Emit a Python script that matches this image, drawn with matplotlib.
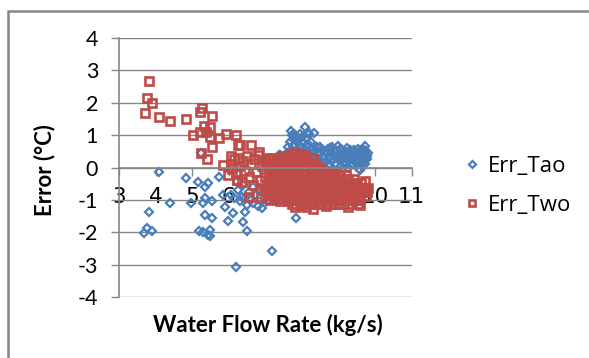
import matplotlib
matplotlib.use('Agg')

import matplotlib.pyplot as plt
from matplotlib.patches import Rectangle

# Err_Tao (blue diamonds)
tao_x = [3.69, 3.77, 3.89, 3.82, 4.09, 4.39, 4.84, 4.98, 5.16, 5.43, 5.36, 5.73,
         5.34, 5.30, 5.55, 5.34, 5.54, 5.20, 5.30, 5.48, 5.43, 5.50, 5.89, 5.98,
         6.12, 6.38, 6.44, 6.49, 6.21, 7.19, 7.83, 5.25, 7.39, 5.85,
         6.05, 6.15, 6.25, 6.30, 6.35, 6.40, 6.45, 6.50, 6.55, 6.60, 6.65, 6.67,
         6.72, 6.80, 6.85, 6.92, 6.95, 7.00, 7.05, 7.10, 7.15, 7.20, 7.25,
         7.30, 7.35, 7.38, 7.42, 7.45, 7.48, 7.52, 7.55, 7.58, 7.60,
         7.62, 7.65, 7.68, 7.70, 7.72, 7.74, 7.76, 7.78, 7.80, 7.82, 7.85, 7.88,
         7.90, 7.92, 7.95, 7.97, 8.00, 8.02, 8.05, 8.08, 8.10, 8.12, 8.15, 8.18,
         8.20, 8.22, 8.25, 8.28, 8.30, 8.33,
         7.63, 7.67, 7.71, 7.75, 7.79, 7.83, 7.87, 7.91, 7.96, 8.01, 8.06, 8.11,
         8.16, 8.21, 8.26, 8.31, 7.73, 7.99,
         8.35, 8.38, 8.40, 8.43, 8.46, 8.50, 8.52, 8.54, 8.57, 8.60, 8.63, 8.66,
         8.70, 8.73, 8.76, 8.78, 8.80, 8.84, 8.87, 8.90, 8.93, 8.96, 8.99, 9.02,
         9.05, 9.08, 9.10, 9.13, 9.16, 9.20, 9.23, 9.26, 9.30, 9.33, 9.36, 9.40,
         9.43, 9.46, 9.50, 9.53, 9.56, 9.58, 9.61, 9.64, 9.67, 9.70, 9.72, 9.74,
         9.77, 9.80, 9.59,
         8.36, 8.41, 8.48, 8.55, 8.61, 8.68, 8.74, 8.82, 8.85, 8.91, 8.97, 9.03,
         9.07, 9.12, 9.17, 9.22, 9.27, 9.31, 9.35, 9.41, 9.45, 9.49, 9.54, 9.57,
         9.62, 9.66, 9.69, 9.73, 9.76, 9.79]
tao_y = [-2.01, -1.87, -1.96, -1.38, -0.15, -1.10, -0.33, -1.10, -0.45, -0.47, -0.61, -0.28,
         -0.93, -1.10, -1.03, -1.48, -1.57, -1.95, -1.98, -1.93, -2.08, -2.11, -1.21, -1.65,
         -1.39, -1.67, -1.36, -1.96, -3.06, -2.57, -1.57, 0.44, 0.39, -0.85,
         -0.85, -0.95, -0.70, -1.05, -0.90, -0.55, -0.95, -1.15, -0.75, -1.00, -0.60, -1.10,
         -0.85, -1.19, -0.70, -1.26, -0.95, -0.60, -1.05, -0.80, -0.45, -1.00, -0.70,
         -0.55, -0.20, 0.39, -0.85, 0.10, -0.40, 0.25, -0.70, -0.05, 0.45,
         0.62, 0.30, 0.80, 1.13, 0.55, 0.15, 0.87, 0.40, 0.70, 1.00, 0.20, 0.55,
         0.85, -0.30, 0.65, 0.35, 0.95, 0.10, 0.75, 1.26, 0.50, 0.90, 0.25, 0.70,
         1.05, 0.45, 0.80, 0.15, 0.60, 1.06,
         0.05, 0.50, -0.20, 0.65, 0.10, 0.45, 0.95, 0.25, 1.05, 0.40, 0.20, 0.65,
         1.10, 0.30, 0.55, 0.35, 1.00, 0.80,
         0.35, 0.55, 0.05, 0.45, 0.25, 0.62, 0.10, 0.54, 0.35, -0.05, 0.48, 0.20,
         0.58, 0.30, 0.60, 0.05, 0.45, 0.22, 0.55, 0.35, -0.10, 0.50, 0.65, 0.25,
         0.45, 0.05, 0.55, 0.30, 0.15, 0.48, 0.35, 0.00, 0.40, 0.25, 0.52, 0.10,
         0.38, 0.20, 0.45, 0.30, -0.05, 0.50, 0.25, 0.40, 0.15, 0.55, 0.65, 0.30,
         0.37, 0.45, -0.07,
         0.15, 0.62, 0.40, 0.05, 0.30, 0.45, 0.12, 0.62, 0.38, 0.10, 0.30, 0.58,
         0.35, 0.00, 0.38, 0.60, 0.20, 0.55, 0.08, 0.55, 0.30, 0.15, 0.58, 0.35,
         0.08, 0.52, 0.28, 0.10, 0.50, 0.25]

# Err_Two (red squares)
two_x = [3.82, 3.77, 3.89, 3.70, 4.08, 4.39, 4.84, 5.28, 5.21, 5.54, 5.02, 5.33,
         5.48, 5.21, 5.39, 5.48, 5.72, 5.92, 6.21, 5.25, 5.54, 5.41, 5.85, 5.98,
         6.26, 6.07, 6.23,
         6.05, 6.10, 6.15, 6.20, 6.25, 6.30, 6.35, 6.40, 6.45, 6.50, 6.55, 6.60,
         6.62, 6.65, 6.70, 6.75, 6.80, 6.82, 6.85, 6.90, 6.95, 6.98, 6.30, 6.23,
         6.55, 6.88,
         7.00, 7.03, 7.06, 7.09, 7.12, 7.15, 7.18, 7.21, 7.24, 7.27, 7.30, 7.33,
         7.36, 7.39, 7.42, 7.44, 7.47, 7.50, 7.53, 7.56, 7.58, 7.60, 7.05, 7.25,
         7.45, 7.35,
         7.02, 7.08, 7.13, 7.17, 7.22, 7.28, 7.32, 7.38, 7.41, 7.46, 7.51, 7.55,
         7.57, 7.12, 7.40, 7.48, 7.20,
         7.70, 7.82, 7.95, 8.05,
         7.62, 7.75, 7.88, 8.00, 8.12, 8.30,
         7.66, 7.79, 7.92, 8.04, 8.17, 8.35,
         7.61, 7.72, 7.85, 7.98, 8.10, 8.22, 8.37, 8.50,
         7.66, 7.78, 7.90, 8.03, 8.15, 8.28, 8.42, 8.58, 8.72, 8.86,
         7.62, 7.74, 7.87, 8.00, 8.12, 8.25, 8.38, 8.50, 8.63, 8.78, 8.90, 9.05, 9.20,
         7.67, 7.80, 7.93, 8.06, 8.19, 8.32, 8.45, 8.57, 8.70, 8.84, 8.98, 9.12,
         9.27, 9.42, 9.72,
         7.63, 7.76, 7.89, 8.02, 8.14, 8.27, 8.40, 8.53, 8.66, 8.80, 8.93, 9.06,
         9.20, 9.34, 9.48, 9.62, 9.78,
         7.68, 7.81, 7.94, 8.07, 8.20, 8.33, 8.46, 8.60, 8.74, 8.88, 9.01, 9.15,
         9.29, 9.43, 9.56, 9.70, 9.81,
         7.64, 7.77, 7.90, 8.03, 8.16, 8.29, 8.42, 8.55, 8.69, 8.83, 8.96, 9.10,
         9.24, 9.38, 9.51, 9.65, 9.78,
         7.69, 7.82, 7.95, 8.08, 8.21, 8.34, 8.48, 8.62, 8.76, 8.90, 9.04, 9.18,
         9.32, 9.46, 9.60, 9.74,
         7.65, 7.78, 7.91, 8.04, 8.17, 8.31, 8.45, 8.59, 8.73, 8.87, 9.01, 9.15,
         9.30, 9.45, 9.60,
         7.72, 7.85, 7.98, 8.12, 8.26, 8.40, 8.55, 8.70, 8.85, 9.00, 9.16, 9.35, 9.52,
         7.80, 7.95, 8.10, 8.31, 8.67, 9.27, 9.59]
two_y = [2.68, 2.14, 2.00, 1.68, 1.57, 1.45, 1.49, 1.83, 1.70, 1.60, 1.01, 1.29,
         1.26, 1.11, 1.11, 0.95, 0.91, 1.04, 1.01, 0.44, 0.63, 0.26, 0.07, -0.24,
         0.70, 0.34, -0.38,
         0.10, -0.05, 0.25, -0.20, 0.30, 0.05, -0.45, 0.20, -0.10, 0.35, -0.30, 0.10,
         0.68, -0.55, 0.25, -0.15, 0.40, 0.47, -0.40, 0.05, -0.70, 0.20, 0.68, -0.38,
         -0.90, -0.95,
         -0.30, 0.15, -0.55, -0.05, 0.25, -0.80, -0.25, 0.05, -0.50, -0.95, -0.15, 0.20,
         -0.65, -0.35, 0.00, -0.98, -0.50, -0.20, 0.15, -0.75, -0.40, -1.05, -0.85, -0.70,
         -0.80, -0.10,
         -0.70, 0.30, -0.40, -0.10, -0.85, 0.10, -0.45, -0.80, 0.25, -0.25, -0.60, 0.05,
         -0.95, -1.00, -1.05, 0.35, 0.30,
         0.40, 0.45, 0.42, 0.38,
         0.28, 0.28, 0.28, 0.28, 0.28, 0.25,
         0.15, 0.15, 0.15, 0.15, 0.15, 0.12,
         0.02, 0.02, 0.02, 0.02, 0.02, 0.02, 0.00, -0.02,
         -0.10, -0.10, -0.10, -0.10, -0.10, -0.10, -0.10, -0.12, -0.14, -0.16,
         -0.23, -0.23, -0.23, -0.23, -0.23, -0.23, -0.23, -0.23, -0.23, -0.23, -0.23, -0.23, -0.23,
         -0.36, -0.36, -0.36, -0.36, -0.36, -0.36, -0.36, -0.36, -0.36, -0.36, -0.36, -0.36,
         -0.36, -0.36, -0.41,
         -0.49, -0.49, -0.49, -0.49, -0.49, -0.49, -0.49, -0.49, -0.49, -0.49, -0.49, -0.49,
         -0.49, -0.49, -0.49, -0.49, -0.74,
         -0.62, -0.62, -0.62, -0.62, -0.62, -0.62, -0.62, -0.62, -0.62, -0.62, -0.62, -0.62,
         -0.62, -0.62, -0.62, -0.62, -0.62,
         -0.75, -0.75, -0.75, -0.75, -0.75, -0.75, -0.75, -0.75, -0.75, -0.75, -0.75, -0.75,
         -0.75, -0.75, -0.75, -0.75, -0.75,
         -0.88, -0.88, -0.88, -0.88, -0.88, -0.88, -0.88, -0.88, -0.88, -0.88, -0.88, -0.88,
         -0.88, -0.88, -0.88, -0.88,
         -1.00, -1.00, -1.00, -1.00, -1.00, -1.00, -1.00, -1.00, -1.00, -1.00, -1.00, -1.00,
         -1.00, -1.00, -1.00,
         -1.12, -1.12, -1.12, -1.12, -1.12, -1.12, -1.12, -1.12, -1.12, -1.12, -1.12, -1.12, -1.12,
         -1.22, -1.15, -1.22, -1.29, -1.19, -1.21, -1.15]

x_ticks = [3, 4, 5, 6, 7, 8, 9, 10, 11]
y_ticks = [-4, -3, -2, -1, 0, 1, 2, 3, 4]

grey = '#868686'
tick_font = 'Lato'

fig = plt.figure(figsize=(5.89, 3.58), dpi=100)
ax = fig.add_axes([119 / 589, 1 - 297 / 358, (411.7 - 119) / 589, (297 - 38) / 358])

ax.plot(tao_x, tao_y, linestyle='none', marker='D', markersize=4.2,
        markerfacecolor='none', markeredgecolor='#4A7EBB', markeredgewidth=1.6,
        label='Err_Tao')
ax.plot(two_x, two_y, linestyle='none', marker='s', markersize=5.2,
        markerfacecolor='none', markeredgecolor='#BE4B48', markeredgewidth=1.9,
        label='Err_Two')

ax.set_xlim(3, 11)
ax.set_ylim(-4, 4)
ax.set_xticks(x_ticks)
ax.set_yticks(y_ticks)
ax.set_yticklabels([str(v) for v in y_ticks], fontfamily=tick_font)
ax.set_xticklabels([str(v) for v in x_ticks], fontfamily=tick_font)
ax.tick_params(axis='both', labelsize=15.5, color=grey, direction='out', length=6, width=1)
ax.tick_params(axis='y', pad=9)
ax.tick_params(axis='x', pad=8)

ax.grid(True, axis='y', color=grey, linewidth=1)
ax.set_axisbelow(True)
for s in ['top', 'right']:
    ax.spines[s].set_visible(False)
ax.spines['bottom'].set_position(('data', 0))
ax.spines['bottom'].set_color(grey)
ax.spines['left'].set_color(grey)
ax.spines['bottom'].set_linewidth(1.2)
ax.spines['left'].set_linewidth(1.2)

fig.text(45 / 589, 1 - 170 / 358, 'Error (\u00b0C)', rotation=90, fontsize=16,
         fontweight='bold', fontfamily=tick_font, ha='center', va='center')
fig.text(268 / 589, 1 - 325 / 358, 'Water Flow Rate (kg/s)', fontsize=16,
         fontweight='bold', fontfamily=tick_font, ha='center', va='center')

leg = ax.legend(loc='center left', bbox_to_anchor=(443 / 589, 1 - 186 / 358),
                bbox_transform=fig.transFigure, frameon=False, handlelength=0.8,
                handletextpad=0.3, labelspacing=0.8, markerscale=0.85,
                prop={'family': 'Open Sans', 'size': 16})

# outer chart border
fig.patches.append(Rectangle((8 / 589, -0.1), 1.2, 1.1 - 11 / 358, transform=fig.transFigure,
                             fill=False, edgecolor=grey, linewidth=1.8))

fig.savefig('out.png', dpi=100)
